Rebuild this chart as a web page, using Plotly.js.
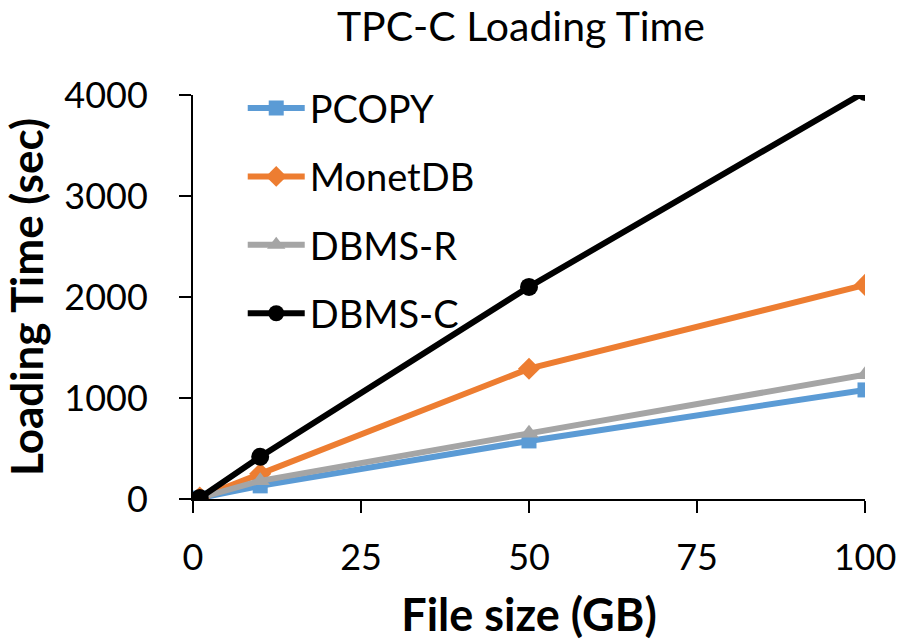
<!DOCTYPE html>
<html>
<head>
<meta charset="utf-8">
<script src="https://cdn.plot.ly/plotly-3.0.1.min.js"></script>
<style>html,body{margin:0;padding:0;background:#fff;}#chart{width:900px;height:641px;}</style>
</head>
<body>
<div id="chart"></div>
<script>
const fileSizes = [1, 10, 50, 100];
const pcopy = [10, 130, 575, 1080];
const monetdb = [15, 250, 1290, 2120];
const dbmsR = [12, 180, 650, 1230];
const dbmsC = [10, 418, 2100, 4030];
const seriesNames = ["PCOPY", "MonetDB", "DBMS-R", "DBMS-C"];
const xTicks = [0, 25, 50, 75, 100];
const yTicks = [0, 1000, 2000, 3000, 4000];

const FONT = "Lato, 'Open Sans', sans-serif";
const colors = ["#5B9BD5", "#ED7D31", "#A5A5A5", "#000000"];
const symbols = ["square", "diamond", "triangle-up", "circle"];
const msizes = [15, 17, 17, 18];
const lwidths = [6, 6, 6, 6];
const values = [pcopy, monetdb, dbmsR, dbmsC];

const traces = values.map((v, i) => ({
  x: fileSizes, y: v, name: seriesNames[i], type: "scatter", mode: "lines+markers",
  line: {color: colors[i], width: lwidths[i]},
  marker: {color: colors[i], symbol: symbols[i], size: msizes[i]},
  legendgroup: "g" + i
}));

const layout = {
  width: 900, height: 641,
  margin: {l: 193, r: 35, t: 95, b: 142},
  paper_bgcolor: "#fff", plot_bgcolor: "#fff",
  font: {family: FONT, color: "#000"},
  title: {text: "TPC-C Loading Time", font: {family: FONT, size: 41, color: "#000"}, xref: "paper", x: 0.488, xanchor: "center", yref: "container", y: 0.958, yanchor: "middle"},
  xaxis: {
    range: [0, 100], tickvals: xTicks, ticktext: xTicks.map(String),
    showgrid: false, zeroline: false, showline: true, linecolor: "#000", linewidth: 2,
    ticks: "outside", ticklen: 12, tickwidth: 2, tickcolor: "#000",
    tickfont: {family: FONT, size: 36, color: "#000"}, ticklabelstandoff: 14,
    title: {text: "<b>File size (GB)</b>", font: {family: FONT, size: 45, color: "#000"}, standoff: 26}
  },
  yaxis: {
    range: [0, 4000], tickvals: yTicks, ticktext: yTicks.map(String),
    showgrid: false, zeroline: false, showline: true, linecolor: "#000", linewidth: 2,
    ticks: "outside", ticklen: 12, tickwidth: 2, tickcolor: "#000",
    tickfont: {family: FONT, size: 36, color: "#000"}, ticklabelstandoff: 24,
    title: {text: "<b>Loading Time (sec)</b>", font: {family: FONT, size: 44, color: "#000"}, standoff: 12}
  },
  showlegend: true,
  legend: {
    x: 0.074, y: 1.045, xanchor: "left", yanchor: "top",
    bgcolor: "rgba(0,0,0,0)", borderwidth: 0,
    font: {family: FONT, size: 38, color: "#000"},
    traceorder: "grouped", tracegroupgap: 16, itemwidth: 57
  }
};

Plotly.newPlot("chart", traces, layout, {displayModeBar: false, staticPlot: true});
</script>
</body>
</html>
